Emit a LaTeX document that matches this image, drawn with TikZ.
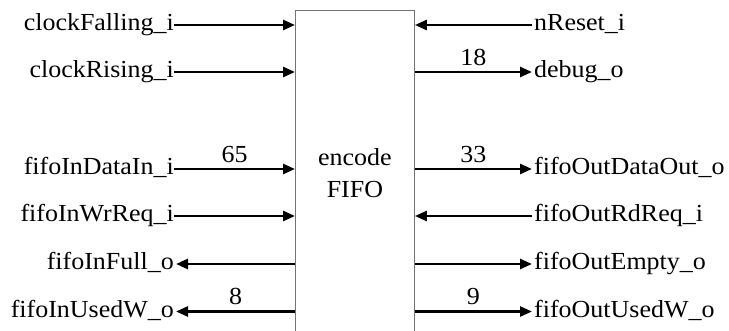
\documentclass[tikz,border=0pt]{standalone}
\usepackage{fontspec}
\setmainfont[FakeStretch=1.06]{Liberation Serif}
\usetikzlibrary{arrows.meta}
\begin{document}
\begin{tikzpicture}[x=1pt,y=-1pt,
  every node/.style={font=\fontsize{24.5}{32}\selectfont},
  portlbl/.style={inner sep=0pt, text height=16pt, text depth=4pt},
  sig/.style={line width=2.6pt, -{Triangle[length=12pt,width=10pt]}},
  buswidth/.style={midway, above=5pt, inner sep=0pt},
  block/.style={draw=black!55, line width=0.9pt, minimum width=119pt,
    minimum height=326pt, align=center, inner sep=0pt}]
\clip (0,0) rectangle (729,331);

% the FIFO block (runs past the lower edge)
\node[block, anchor=north west] (fifo) at (295,10) {encode\\FIFO};

% left-hand ports
\node[portlbl, anchor=east] (cf)  at (174,25)    {clockFalling\_i};
\node[portlbl, anchor=east] (cr)  at (174,72)    {clockRising\_i};
\node[portlbl, anchor=east] (idi) at (174,169)   {fifoInDataIn\_i};
\node[portlbl, anchor=east] (iwr) at (174,216)   {fifoInWrReq\_i};
\node[portlbl, anchor=east] (ifu) at (174,264)   {fifoInFull\_o};
\node[portlbl, anchor=east] (iuw) at (174,311.5) {fifoInUsedW\_o};

% right-hand ports
\node[portlbl, anchor=west] (nr)  at (534,25)    {nReset\_i};
\node[portlbl, anchor=west] (dbg) at (534,72)    {debug\_o};
\node[portlbl, anchor=west] (odo) at (534,169)   {fifoOutDataOut\_o};
\node[portlbl, anchor=west] (ord) at (534,216)   {fifoOutRdReq\_i};
\node[portlbl, anchor=west] (oem) at (534,264)   {fifoOutEmpty\_o};
\node[portlbl, anchor=west] (ouw) at (534,311.5) {fifoOutUsedW\_o};

% inputs on the left
\draw[sig] (cf.east)  -- (cf.east -| fifo.west);
\draw[sig] (cr.east)  -- (cr.east -| fifo.west);
\draw[sig] (idi.east) -- (idi.east -| fifo.west) node[buswidth] {65};
\draw[sig] (iwr.east) -- (iwr.east -| fifo.west);
% outputs on the left
\draw[sig] (fifo.west |- ifu.east) -- ([xshift=2pt]ifu.east);
\draw[sig] (fifo.west |- iuw.east) -- ([xshift=2pt]iuw.east) node[buswidth] {8};

% right side
\draw[sig] ([xshift=-2pt]nr.west) -- (fifo.east |- nr.west);
\draw[sig] (fifo.east |- dbg.west) -- ([xshift=-2pt]dbg.west) node[buswidth] {18};
\draw[sig] (fifo.east |- odo.west) -- ([xshift=-2pt]odo.west) node[buswidth] {33};
\draw[sig] ([xshift=-2pt]ord.west) -- (fifo.east |- ord.west);
\draw[sig] (fifo.east |- oem.west) -- ([xshift=-2pt]oem.west);
\draw[sig] (fifo.east |- ouw.west) -- ([xshift=-2pt]ouw.west) node[buswidth] {9};
\end{tikzpicture}
\end{document}
